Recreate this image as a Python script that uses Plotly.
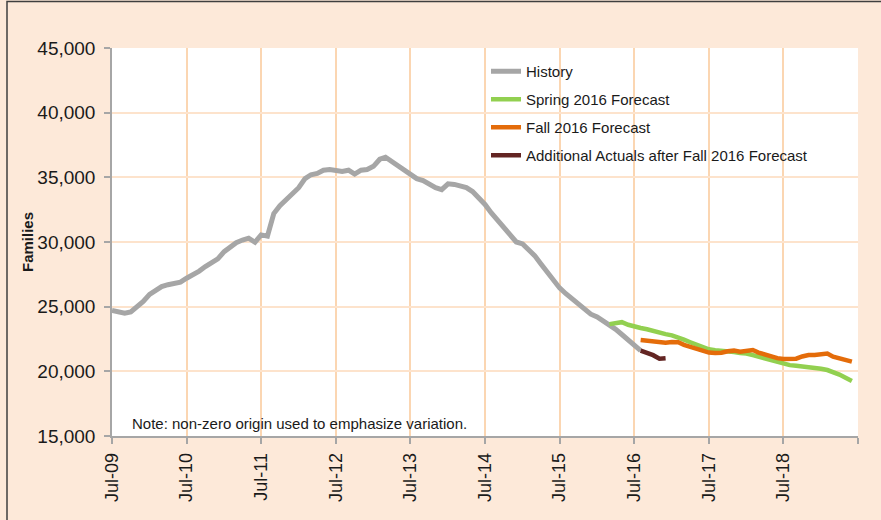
import pandas as pd
import plotly.graph_objects as go

# ---------------- data ----------------
history_start = "2009-07-01"
history = [24700, 24550, 24500, 24600, 24950, 25400, 25950, 26300, 26550, 26700, 26800, 26900,
           27200, 27450, 27750, 28100, 28450, 28700, 29250, 29600, 29950, 30150, 30300, 29980,
           30550, 30450, 32200, 32800, 33250, 33700, 34200, 34900, 35200, 35300, 35550, 35600,
           35500, 35450, 35550, 35250, 35550, 35600, 35850, 36400, 36550, 36200, 35850, 35550,
           35200, 34900, 34750, 34450, 34200, 34050, 34500, 34450, 34300, 34200, 33900, 33400,
           32900, 32250, 31650, 31150, 30500, 30000, 29850, 29400, 28950, 28300, 27700, 27000,
           26450, 26000, 25600, 25150, 24700, 24420, 24200, 23900, 23600, 23250, 22850, 22400,
           21950, 21600]

spring_start = "2016-03-01"
spring = [23650, 23700, 23800, 23600, 23450, 23350, 23250, 23100, 22950, 22880, 22780, 22650,
          22450, 22250, 22050, 21850, 21700, 21630, 21600, 21570, 21500, 21420, 21380, 21250,
          21130, 20950, 20800, 20700, 20540, 20480, 20430, 20380, 20350, 20310, 20200, 20100,
          19950, 19750, 19500, 19250]

fall_start = "2016-08-01"
fall = [22420, 22350, 22300, 22230, 22220, 22270, 22250, 22050, 21880, 21700, 21550, 21450,
        21420, 21440, 21550, 21600, 21520, 21600, 21650, 21450, 21300, 21150, 21020, 20950,
        20950, 20980, 21150, 21260, 21260, 21330, 21380, 21130, 21000, 20850, 20750]

actuals_start = "2016-08-01"
actuals = [21600, 21450, 21250, 20980, 21020]

series_names = ["History", "Spring 2016 Forecast", "Fall 2016 Forecast",
                "Additional Actuals after Fall 2016 Forecast"]
series_colors = ["#A6A6A6", "#92D050", "#E46C0A", "#632523"]

tick_dates = ["2009-07-01", "2010-07-01", "2011-07-01", "2012-07-01", "2013-07-01",
              "2014-07-01", "2015-07-01", "2016-07-01", "2017-07-01", "2018-07-01", "2019-07-01"]
tick_labels = ["Jul-09", "Jul-10", "Jul-11", "Jul-12", "Jul-13", "Jul-14", "Jul-15",
               "Jul-16", "Jul-17", "Jul-18", ""]
y_ticks = [15000, 20000, 25000, 30000, 35000, 40000, 45000]


def months(start, n):
    return pd.date_range(start=start, periods=n, freq="MS")


FONT = "Arial, 'Liberation Sans', sans-serif"

fig = go.Figure()
all_series = [(history_start, history), (spring_start, spring),
              (fall_start, fall), (actuals_start, actuals)]
for i, (start, vals) in enumerate(all_series):
    fig.add_trace(go.Scatter(
        x=months(start, len(vals)), y=vals, mode="lines",
        name=series_names[i], legendgroup=str(i),
        line=dict(color=series_colors[i], width=5 if i == 0 else 4.5),
        hoverinfo="x+y",
    ))

# white legend box (drawn between grid and traces)
fig.add_shape(type="rect", xref="paper", yref="paper",
              x0=(453 - 112) / 746, x1=(853 - 112) / 746,
              y0=(436 - 172) / 388, y1=(436 - 58) / 388,
              fillcolor="white", line=dict(width=0), layer="between")

# outer frame (left and top edges visible)
fig.add_shape(type="rect", xref="paper", yref="paper",
              x0=(7 - 112) / 746, x1=(890 - 112) / 746,
              y0=(436 - 530) / 388, y1=(436 - 1.5) / 388,
              line=dict(color="#3F3F3F", width=1.5), fillcolor="rgba(0,0,0,0)", layer="above")

fig.add_annotation(text="Note: non-zero origin used to emphasize variation.",
                   xref="paper", yref="paper", x=(130 - 112) / 746, y=(436 - 423) / 388,
                   xanchor="left", yanchor="middle", showarrow=False,
                   font=dict(family=FONT, size=15, color="#1a1a1a"))

fig.update_layout(
    width=881, height=520,
    margin=dict(l=112, r=23, t=48, b=84),
    paper_bgcolor="#FDE9D9", plot_bgcolor="white",
    font=dict(family=FONT, color="#1a1a1a"),
    showlegend=True,
    legend=dict(x=(486 - 112) / 746, y=(436 - 55) / 388, xanchor="left", yanchor="top",
                bgcolor="rgba(0,0,0,0)", font=dict(family=FONT, size=15, color="#1a1a1a"),
                tracegroupgap=5.5, itemwidth=30),
    xaxis=dict(
        type="date", range=["2009-07-01", "2019-07-01"],
        tickmode="array", tickvals=tick_dates, ticktext=tick_labels,
        tickangle=-90, tickfont=dict(family=FONT, size=18, color="#1a1a1a"),
        ticklabelstandoff=2,
        showgrid=True, gridcolor="#FBD6B2", gridwidth=2,
        showline=True, linecolor="#A6A6A6", linewidth=1.5,
        ticks="outside", ticklen=6, tickcolor="#A6A6A6", tickwidth=1.5,
        zeroline=False,
    ),
    yaxis=dict(
        range=[15000, 45000], tickmode="array", tickvals=y_ticks,
        tickformat=",", tickfont=dict(family=FONT, size=19, color="#1a1a1a"),
        ticklabelstandoff=5,
        showgrid=True, gridcolor="#FDE3CC", gridwidth=2,
        showline=True, linecolor="#A6A6A6", linewidth=1.5,
        ticks="outside", ticklen=6, tickcolor="#A6A6A6", tickwidth=1.5,
        zeroline=False,
        title=dict(text="<b>Families</b>", font=dict(family=FONT, size=15, color="#1a1a1a"),
                   standoff=0),
    ),
)

fig.write_html("out.html", config={"displayModeBar": False},
               post_script="document.body.style.margin='0';")
